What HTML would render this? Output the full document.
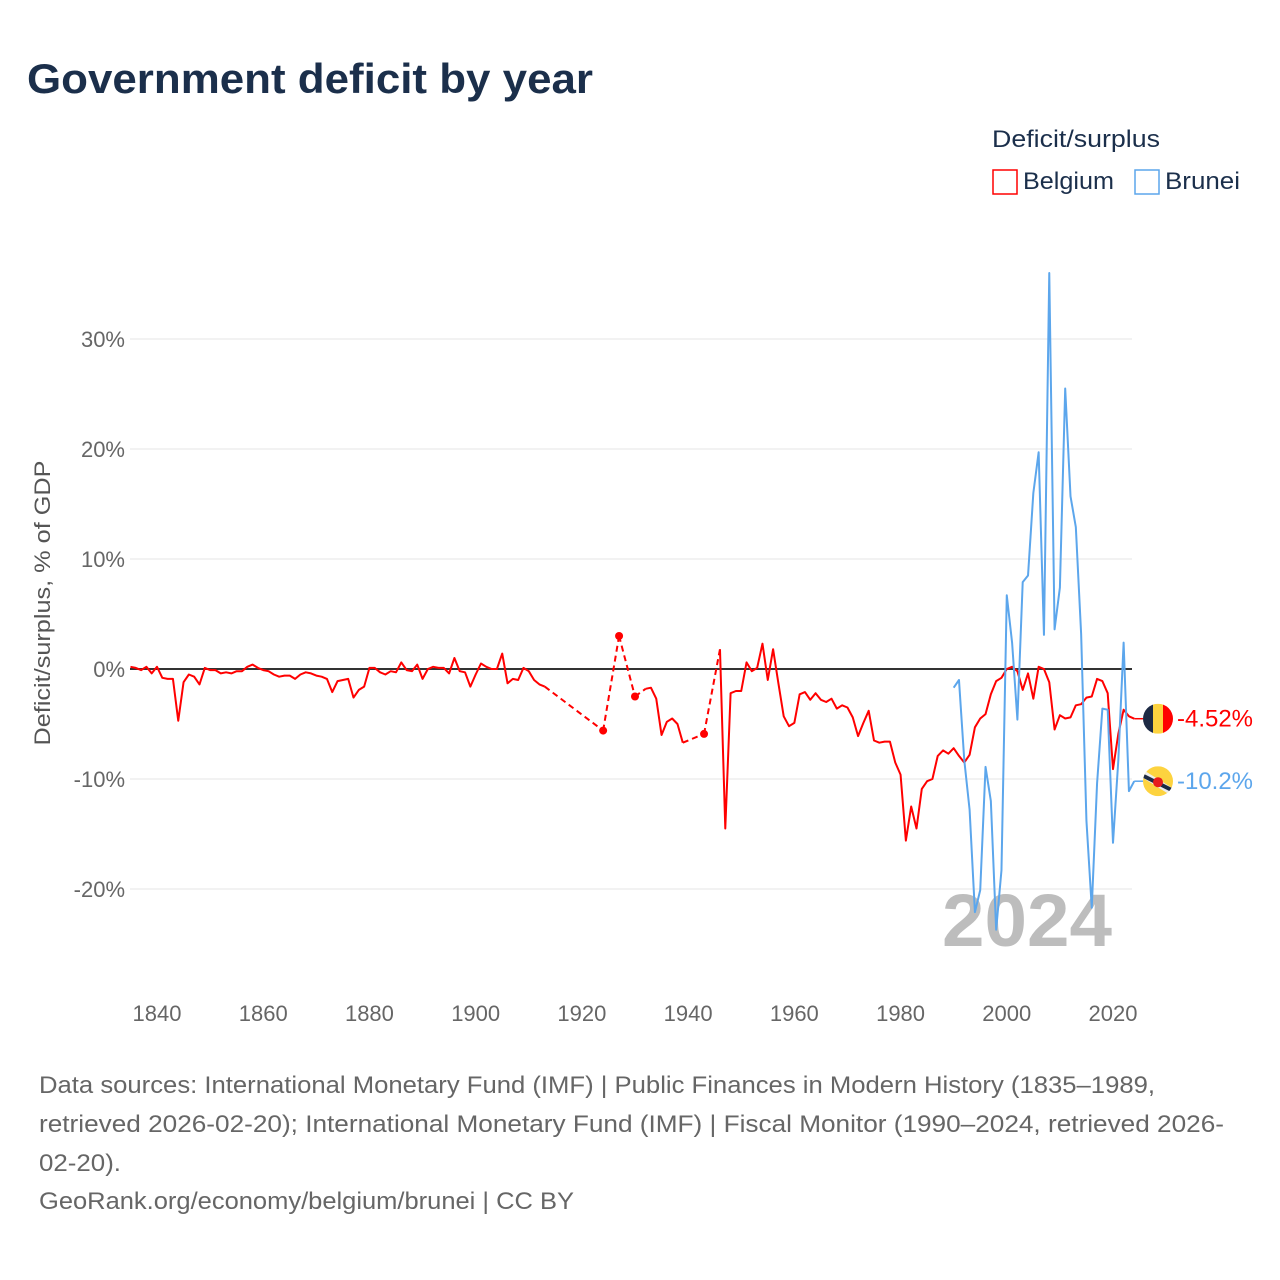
<!DOCTYPE html>
<html><head><meta charset="utf-8"><style>
body{margin:0;background:#fff;font-family:"Liberation Sans",sans-serif;}
svg{display:block}
</style></head><body>
<svg id="chart" width="1280" height="1280" viewBox="0 0 1280 1280">
<text x="27" y="93" font-size="42" font-weight="bold" fill="#1b2f4b" textLength="566" lengthAdjust="spacingAndGlyphs">Government deficit by year</text>
<g>
<text x="992" y="147" font-size="24" fill="#1b2f4b" textLength="168" lengthAdjust="spacingAndGlyphs">Deficit/surplus</text>
<g><rect x="993" y="170" width="24" height="24" fill="#fff" stroke="#ff0000" stroke-width="1.5"/><text x="1023" y="189" font-size="24" fill="#1b2f4b" textLength="91" lengthAdjust="spacingAndGlyphs">Belgium</text></g>
<g><rect x="1135" y="170" width="24" height="24" fill="#fff" stroke="#5ca6ec" stroke-width="1.5"/><text x="1165" y="189" font-size="24" fill="#1b2f4b" textLength="75" lengthAdjust="spacingAndGlyphs">Brunei</text></g>
</g>
<text transform="translate(50,603) rotate(-90)" text-anchor="middle" font-size="22" fill="#555" textLength="285" lengthAdjust="spacingAndGlyphs">Deficit/surplus, % of GDP</text>
<g id="grid"></g>
<text x="942" y="946" font-size="74" font-weight="bold" fill="#bdbdbd" textLength="170" lengthAdjust="spacingAndGlyphs">2024</text>
<g id="series"></g>
<g id="endlabels"></g>
<g font-size="24" fill="#666">
<text x="39" y="1093" textLength="1116" lengthAdjust="spacingAndGlyphs">Data sources: International Monetary Fund (IMF) | Public Finances in Modern History (1835–1989,</text>
<text x="39" y="1132" textLength="1185" lengthAdjust="spacingAndGlyphs">retrieved 2026-02-20); International Monetary Fund (IMF) | Fiscal Monitor (1990–2024, retrieved 2026-</text>
<text x="39" y="1171" textLength="82" lengthAdjust="spacingAndGlyphs">02-20).</text>
<text x="39" y="1209" textLength="535" lengthAdjust="spacingAndGlyphs">GeoRank.org/economy/belgium/brunei | CC BY</text>
</g>
</svg>
<script>
const yTicks=[30,20,10,0,-10,-20];
const xTicks=[1840,1860,1880,1900,1920,1940,1960,1980,2000,2020];
const belgiumStart=1835;
const belgiumValues=[0.2,0.1,-0.1,0.2,-0.4,0.2,-0.8,-0.9,-0.9,-4.7,-1.2,-0.5,-0.7,-1.4,0.1,-0.1,-0.1,-0.4,-0.3,-0.4,-0.2,-0.2,0.2,0.4,0.1,-0.1,-0.2,-0.5,-0.7,-0.6,-0.6,-0.9,-0.5,-0.3,-0.4,-0.6,-0.7,-0.9,-2.1,-1.1,-1.0,-0.9,-2.6,-1.9,-1.6,0.1,0.1,-0.3,-0.5,-0.2,-0.3,0.6,-0.1,-0.2,0.4,-0.9,0,0.2,0.1,0.1,-0.4,1.0,-0.2,-0.3,-1.6,-0.5,0.5,0.2,0,0,1.4,-1.3,-0.9,-1.0,0.1,-0.2,-1.0,-1.4,-1.6,
null,null,null,null,null,null,null,null,null,null,-5.6,null,null,3.0,null,null,-2.5,null,-1.8,-1.7,-2.7,-6.0,-4.8,-4.5,-5.0,-6.7,null,null,null,-5.9,null,null,1.8,-14.5,-2.2,-2.0,-2.0,0.6,-0.2,0.1,2.3,-1.0,1.8,-1.3,-4.3,-5.2,-4.9,-2.3,-2.1,-2.8,-2.2,-2.8,-3.0,-2.7,-3.6,-3.3,-3.5,-4.4,-6.1,-4.9,-3.8,-6.5,-6.7,-6.6,-6.6,-8.5,-9.6,-15.6,-12.5,-14.5,-10.9,-10.2,-10.0,-7.9,-7.4,-7.7,-7.2,-7.9,-8.5,-7.8,-5.3,-4.5,-4.1,-2.3,-1.1,-0.8,0.0,0.2,-0.2,-1.9,-0.4,-2.7,0.2,0.0,-1.2,-5.5,-4.2,-4.5,-4.4,-3.3,-3.2,-2.6,-2.5,-0.9,-1.1,-2.2,-9.1,-5.9,-3.7,-4.3,-4.52];
const bruneiStart=1990;
const bruneiValues=[-1.7,-1.0,-8.3,-12.8,-22.1,-20.1,-8.9,-12.0,-23.7,-18.3,6.7,2.4,-4.6,7.9,8.5,16.0,19.7,3.1,36.0,3.6,7.4,25.5,15.7,12.9,3.2,-13.8,-21.7,-10.4,-3.6,-3.7,-15.8,-8.3,2.4,-11.1,-10.2];
const NS="http://www.w3.org/2000/svg";
const X=yr=>157+(yr-1840)*(1113-157)/180;
const Y=v=>669-v*11;
function mk(tag,attrs,parent){const e=document.createElementNS(NS,tag);for(const k in attrs)e.setAttribute(k,attrs[k]);parent.appendChild(e);return e;}
const grid=document.getElementById('grid');
yTicks.forEach(t=>{
  const l=mk('line',{x1:130,x2:1132,y1:Y(t),y2:Y(t),stroke:t===0?'#333':'#e6e6e6','stroke-width':t===0?2:1},grid);
  
  
  const tx=mk('text',{x:125,y:Y(t)+8,'text-anchor':'end','font-size':22,fill:'#666'},grid);
  tx.textContent=t+'%';
  
  
});
xTicks.forEach(t=>{
  const tx=mk('text',{x:X(t),y:1021,'text-anchor':'middle','font-size':22,fill:'#666'},grid);
  tx.textContent=t;
  
  
});
function drawSeries(start,vals,color,name){
  const g=mk('g',{},document.getElementById('series'));
  
  
  const pts=vals.map((v,i)=>v===null?null:[X(start+i),Y(v)]);
  let run=[];const runs=[];
  pts.forEach(p=>{if(p)run.push(p);else{if(run.length)runs.push(run);run=[];}});
  if(run.length)runs.push(run);
  for(let i=0;i<runs.length;i++){
    const r=runs[i];
    if(r.length>1){mk('polyline',{points:r.map(p=>p.join(',')).join(' '),fill:'none',stroke:color,'stroke-width':2,'stroke-linejoin':'round'},g);}
    else{mk('circle',{cx:r[0][0],cy:r[0][1],r:4,fill:color},g);}
    if(i<runs.length-1){const a=r[r.length-1],b=runs[i+1][0];
      mk('line',{x1:a[0],y1:a[1],x2:b[0],y2:b[1],stroke:color,'stroke-width':2,'stroke-dasharray':'6,4'},g);}
  }
  return pts[pts.length-1];
}
const bEnd=drawSeries(belgiumStart,belgiumValues,'#ff0000','belgium');
const nEnd=drawSeries(bruneiStart,bruneiValues,'#5ca6ec','brunei');
const el=document.getElementById('endlabels');
function endLabel(pt,color,text,name,flag){
  const g=mk('g',{},el);
  
  
  mk('line',{x1:pt[0],y1:pt[1],x2:1143,y2:pt[1],stroke:color,'stroke-width':1.5},g);
  const cx=1158,cy=pt[1];
  const cid='clip'+name;
  const cp=mk('clipPath',{id:cid},g);mk('circle',{cx:cx,cy:cy,r:15},cp);
  const fg=mk('g',{'clip-path':'url(#'+cid+')'},g);
  flag(fg,cx,cy);
  const t=mk('text',{x:1177,y:cy+8,'font-size':24,fill:color,textLength:76,lengthAdjust:'spacingAndGlyphs'},g);t.textContent=text;
}
endLabel(bEnd,'#ff0000','-4.52%','belgium',(g,cx,cy)=>{
  mk('rect',{x:cx-15,y:cy-15,width:10,height:30,fill:'#1d2a44'},g);
  mk('rect',{x:cx-5,y:cy-15,width:10,height:30,fill:'#fdd33f'},g);
  mk('rect',{x:cx+5,y:cy-15,width:10,height:30,fill:'#ff0000'},g);
});
endLabel(nEnd,'#5ca6ec','-10.2%','brunei',(g,cx,cy)=>{
  mk('rect',{x:cx-15,y:cy-15,width:30,height:30,fill:'#fdd33f'},g);
  mk('line',{x1:cx-16,y1:cy-8,x2:cx+16,y2:cy+12,stroke:'#eee',"stroke-width":7},g);
  mk('line',{x1:cx-16,y1:cy-6,x2:cx+16,y2:cy+10,stroke:'#1d2a44',"stroke-width":4},g);
  mk('circle',{cx:cx,cy:cy+1,r:5,fill:'#e81c1c'},g);
});
</script>
</body></html>
